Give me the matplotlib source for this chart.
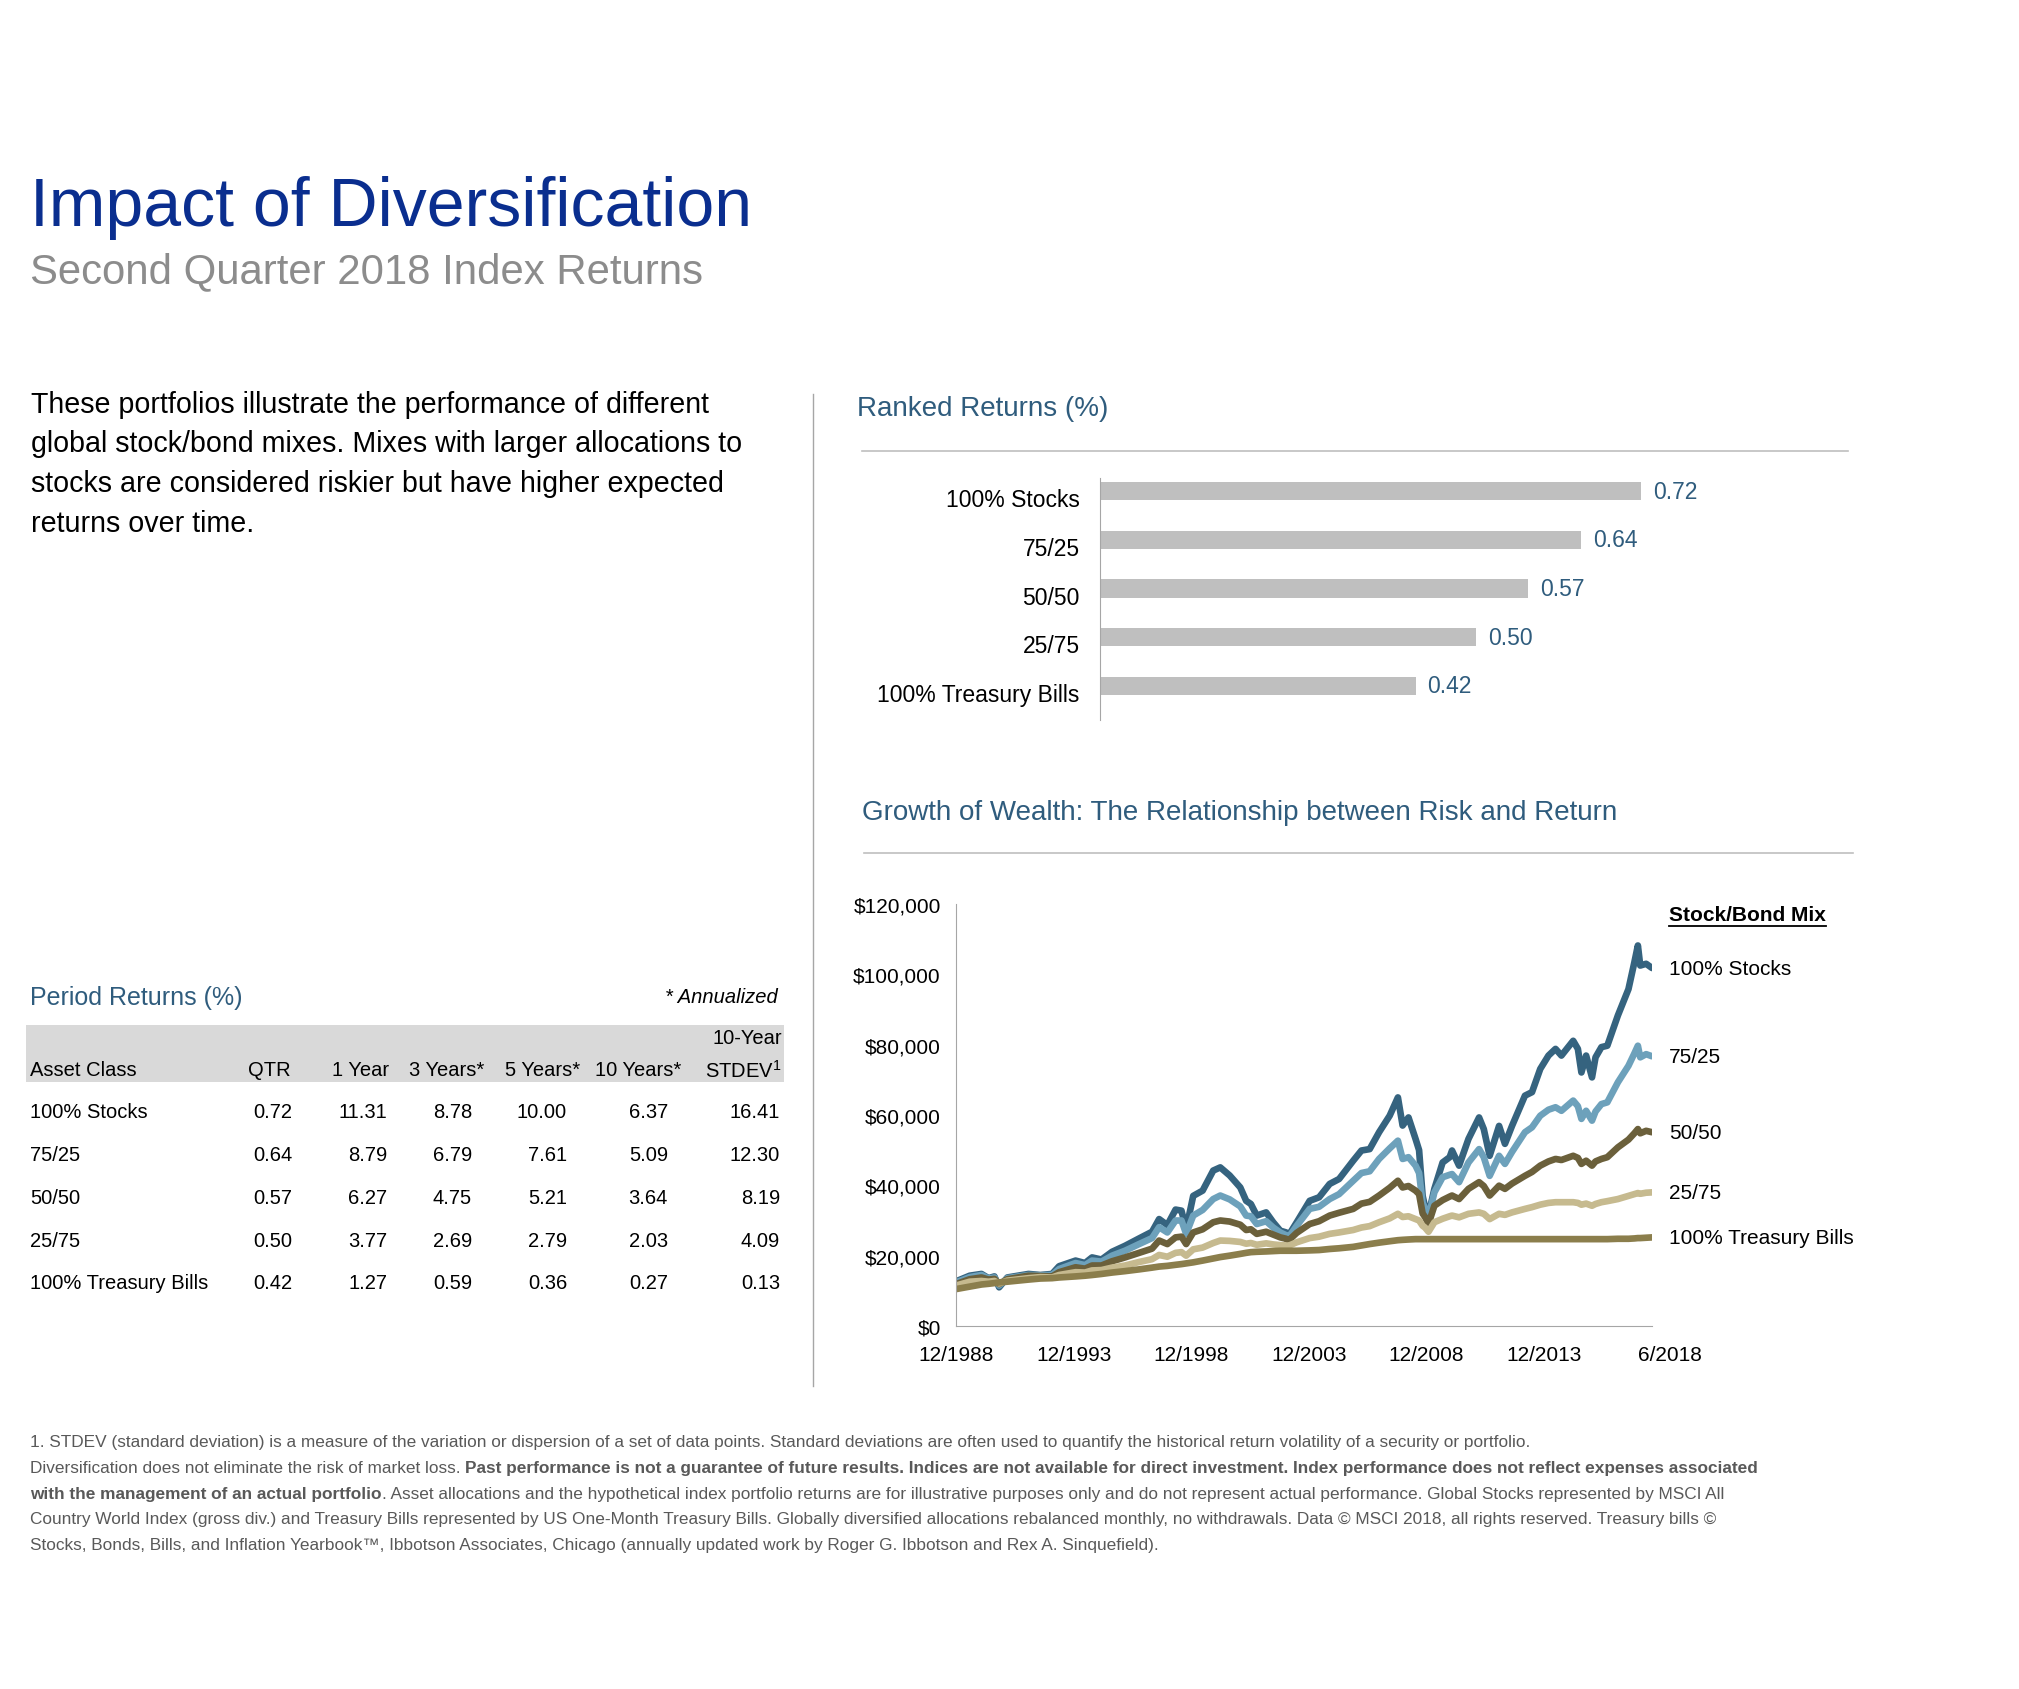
import matplotlib
matplotlib.use('Agg')
import matplotlib.pyplot as plt
from matplotlib.transforms import ScaledTranslation

plt.rcParams['font.family'] = ['Liberation Sans', 'DejaVu Sans']
plt.rcParams['mathtext.fontset'] = 'custom'
plt.rcParams['mathtext.rm'] = 'Liberation Sans'

# Dane: zwroty okresowe (%)
asset_classes = ['100% Stocks', '75/25', '50/50', '25/75', '100% Treasury Bills']
qtr = [0.72, 0.64, 0.57, 0.50, 0.42]
one_year = [11.31, 8.79, 6.27, 3.77, 1.27]
three_years = [8.78, 6.79, 4.75, 2.69, 0.59]
five_years = [10.00, 7.61, 5.21, 2.79, 0.36]
ten_years = [6.37, 5.09, 3.64, 2.03, 0.27]
stdev_10y = [16.41, 12.30, 8.19, 4.09, 0.13]

# Dane: wzrost wartosci (tys. $)
dates = [
    1988.92, 1989.5, 1990.0, 1990.3, 1990.55, 1990.75, 1991.1, 1992.0, 1992.5, 1993.0,
    1993.3, 1994.0, 1994.4, 1994.7, 1995.1, 1995.55, 1996.1, 1996.7, 1997.25, 1997.55,
    1997.9, 1998.25, 1998.5, 1998.7, 1999.0, 1999.4, 1999.85, 2000.15, 2000.55, 2001.0,
    2001.25, 2001.45, 2001.7, 2002.1, 2002.4, 2002.7, 2002.95, 2003.05, 2003.4, 2003.95,
    2004.35, 2004.8, 2005.2, 2005.8, 2006.15, 2006.5, 2006.9, 2007.35, 2007.7, 2007.9,
    2008.15, 2008.45, 2008.6, 2008.75, 2008.85, 2009.0, 2009.25, 2009.6, 2009.9, 2010.0,
    2010.3, 2010.7, 2011.15, 2011.35, 2011.6, 2012.0, 2012.25, 2012.55, 2013.1, 2013.4,
    2013.75, 2014.1, 2014.4, 2014.65, 2015.15, 2015.35, 2015.5, 2015.7, 2015.95, 2016.1,
    2016.35, 2016.6, 2017.05, 2017.5, 2017.75, 2017.9, 2018.0, 2018.25, 2018.5]
stocks_100 = [
    12.7, 14.3, 14.8, 13.6, 14.1, 11.0, 13.8, 14.8, 14.5, 14.8,
    17.0, 18.6, 17.9, 19.5, 18.9, 21.1, 22.8, 24.9, 26.8, 30.4,
    28.7, 33.1, 32.8, 27.5, 37.0, 38.5, 44.2, 45.1, 42.8, 39.4,
    35.6, 34.7, 31.4, 32.3, 29.5, 27.1, 26.6, 25.7, 29.5, 35.6,
    36.6, 40.4, 41.8, 47.0, 49.9, 50.3, 55.1, 59.8, 65.0, 57.0,
    59.3, 53.2, 50.0, 37.0, 34.0, 31.5, 39.0, 46.5, 48.0, 49.9,
    45.6, 53.2, 59.3, 56.0, 48.4, 56.9, 51.8, 56.9, 65.5, 66.5,
    73.1, 76.9, 78.8, 76.9, 81.1, 78.8, 72.1, 76.9, 70.7, 76.4,
    79.3, 79.7, 88.3, 95.8, 103.4, 108.2, 102.5, 103.0, 101.8]
mix_75_25 = [
    12.4, 13.9, 14.5, 13.5, 13.8, 11.5, 13.6, 14.5, 14.4, 14.5,
    16.2, 17.9, 17.3, 18.6, 18.3, 20.0, 21.4, 23.3, 25.0, 28.1,
    26.6, 30.0, 30.0, 26.2, 31.4, 33.0, 36.1, 37.1, 36.0, 34.0,
    31.4, 31.2, 29.0, 29.8, 28.0, 26.6, 25.8, 25.2, 28.5, 33.3,
    33.9, 36.1, 37.5, 41.3, 43.5, 44.0, 47.5, 50.5, 52.7, 47.5,
    48.0, 45.6, 43.5, 35.0, 33.5, 31.0, 38.0, 42.3, 43.0, 43.2,
    40.9, 46.5, 50.3, 48.0, 42.7, 48.4, 46.1, 49.5, 55.1, 56.5,
    59.8, 61.5, 62.2, 61.2, 64.1, 62.5, 58.9, 61.2, 58.4, 61.0,
    63.1, 63.6, 69.3, 74.0, 77.5, 79.7, 76.4, 77.3, 76.7]
mix_50_50 = [
    11.9, 13.3, 13.8, 13.2, 13.4, 11.9, 13.3, 14.3, 14.2, 14.1,
    15.3, 16.7, 16.3, 17.2, 17.2, 18.4, 19.5, 20.8, 22.0, 24.3,
    23.3, 25.2, 25.4, 23.3, 26.6, 27.5, 29.5, 30.0, 29.7, 28.8,
    27.3, 27.5, 26.2, 26.8, 26.0, 25.2, 24.8, 24.3, 26.5, 29.0,
    29.8, 31.4, 32.2, 33.3, 34.8, 35.3, 37.1, 39.3, 41.3, 39.4,
    39.8, 38.5, 37.5, 32.0, 31.0, 29.0, 34.2, 35.8, 36.8, 37.1,
    36.1, 39.0, 40.9, 39.8, 37.1, 39.9, 39.0, 40.5, 42.7, 43.8,
    45.6, 46.8, 47.5, 47.2, 48.4, 47.8, 46.1, 47.0, 45.6, 46.8,
    47.5, 48.0, 50.8, 53.0, 54.8, 56.0, 54.8, 55.5, 55.1]
mix_25_75 = [
    11.5, 12.6, 12.8, 12.6, 12.8, 12.1, 12.9, 13.6, 13.9, 13.8,
    14.5, 15.3, 15.2, 15.8, 15.9, 16.6, 17.2, 18.2, 19.0, 20.2,
    19.7, 20.8, 21.0, 20.0, 21.8, 22.3, 23.6, 24.3, 24.2, 23.9,
    23.4, 23.6, 23.1, 23.5, 23.2, 23.0, 22.9, 22.8, 23.8, 25.0,
    25.4, 26.2, 26.6, 27.3, 28.0, 28.4, 29.5, 30.6, 31.9, 31.0,
    31.2, 30.4, 30.0, 28.5, 28.0, 26.8, 29.5, 30.5, 31.2, 31.4,
    30.9, 31.9, 32.3, 31.9, 30.4, 31.9, 31.6, 32.3, 33.3, 33.8,
    34.5, 35.0, 35.2, 35.2, 35.2, 35.0, 34.5, 34.8, 34.2, 34.7,
    35.2, 35.5, 36.1, 37.0, 37.5, 37.8, 37.6, 37.9, 38.0]
tbills_100 = [
    10.5, 11.2, 11.8, 12.0, 12.2, 12.4, 12.6, 13.2, 13.5, 13.6,
    13.8, 14.1, 14.3, 14.5, 14.8, 15.2, 15.6, 16.1, 16.6, 16.9,
    17.1, 17.4, 17.6, 17.8, 18.1, 18.6, 19.2, 19.6, 20.0, 20.5,
    20.8, 21.0, 21.1, 21.2, 21.3, 21.4, 21.4, 21.4, 21.4, 21.5,
    21.6, 21.9, 22.1, 22.5, 22.9, 23.3, 23.7, 24.1, 24.4, 24.5,
    24.6, 24.7, 24.7, 24.7, 24.7, 24.7, 24.7, 24.7, 24.7, 24.7,
    24.7, 24.7, 24.7, 24.7, 24.7, 24.7, 24.7, 24.7, 24.7, 24.7,
    24.7, 24.7, 24.7, 24.7, 24.7, 24.7, 24.7, 24.7, 24.7, 24.7,
    24.7, 24.7, 24.8, 24.8, 24.9, 25.0, 25.0, 25.1, 25.2]

series = [stocks_100, mix_75_25, mix_50_50, mix_25_75, tbills_100]
series_colors = ['#35637F', '#6DA1BB', '#6B603B', '#C6BA8F', '#8B7E4C']

x_tick_pos = [1988.917, 1993.917, 1998.917, 2003.917, 2008.917, 2013.917, 2018.5]
x_tick_labels = ['12/1988', '12/1993', '12/1998', '12/2003', '12/2008', '12/2013', '6/2018']
y_ticks = [0, 20000, 40000, 60000, 80000, 100000, 120000]

W, H = 2019, 1690
fig = plt.figure(figsize=(W / 100, H / 100), dpi=100)


def fx(x):
    return x / W


def fy(y):
    return 1 - y / H


def add_ax(left, top, right, bottom):
    return fig.add_axes([fx(left), fy(bottom), (right - left) / W, (bottom - top) / H])


BLUE = '#2F5C7D'
TITLE_BLUE = '#0A2E8F'
GRAY_LINE = '#BFBFBF'

# Naglowki
fig.text(fx(30), fy(226), 'Impact of Diversification', fontsize=49, color=TITLE_BLUE, va='baseline')
fig.text(fx(30), fy(283), 'Second Quarter 2018 Index Returns', fontsize=30.2, color='#8C8C8C', va='baseline')

para = ['These portfolios illustrate the performance of different',
        'global stock/bond mixes. Mixes with larger allocations to',
        'stocks are considered riskier but have higher expected',
        'returns over time.']
for i, line in enumerate(para):
    fig.text(fx(31), fy(413 + i * 39.5), line, fontsize=20.6, color='black', va='baseline')

# linia pionowa
fig.add_artist(plt.Line2D([fx(813), fx(813)], [fy(395), fy(1387)], color='#A6A6A6', lw=1))

# Tabela zwrotow
fig.text(fx(30), fy(998), 'Period Returns (%)', fontsize=18, color=BLUE, va='center')
fig.text(fx(778), fy(998), '* Annualized', fontsize=14.5, style='italic', color='black', va='center', ha='right')
fig.add_artist(plt.Rectangle((fx(26), fy(1083)), (784 - 26) / W, (1083 - 1026) / H,
                             color='#D9D9D9', lw=0))
hdr_y = 1071
fig.text(fx(30), fy(hdr_y), 'Asset Class', fontsize=14.5, va='center')
headers = ['QTR', '1 Year', '3 Years*', '5 Years*', '10 Years*']
hdr_right = [291, 389, 484, 580, 681]
for h, xr in zip(headers, hdr_right):
    fig.text(fx(xr), fy(hdr_y), h, fontsize=14.5, va='center', ha='right')
fig.text(fx(782), fy(1039), '10-Year', fontsize=14.5, va='center', ha='right')
fig.text(fx(782), fy(hdr_y), 'STDEV$^{1}$', fontsize=14.5, va='center', ha='right')

cols = [qtr, one_year, three_years, five_years, ten_years, stdev_10y]
col_right = [292, 387, 472, 567, 668, 780]
for r, name in enumerate(asset_classes):
    yy = 1113 + r * 42.75
    fig.text(fx(30), fy(yy), name, fontsize=14.5, va='center')
    for col, xr in zip(cols, col_right):
        fig.text(fx(xr), fy(yy), f'{col[r]:.2f}', fontsize=14.5, va='center', ha='right')

# Ranked Returns
fig.text(fx(857), fy(409), 'Ranked Returns (%)', fontsize=20, color=BLUE, va='center')
fig.add_artist(plt.Line2D([fx(862), fx(1848)], [fy(452), fy(452)], color=GRAY_LINE, lw=1.2))

axb = add_ax(1100, 479, 1701, 721)
ypos = list(range(len(asset_classes)))
axb.barh(ypos, qtr, height=0.38, color='#BFBFBF')
axb.set_xlim(0, 0.8)
axb.set_ylim(4.7, -0.27)
for s in ['top', 'right', 'bottom']:
    axb.spines[s].set_visible(False)
axb.spines['left'].set_color('#A6A6A6')
axb.set_xticks([])
axb.set_yticks([])
for i, (name, v) in enumerate(zip(asset_classes, qtr)):
    axb.text(-0.027, i + 0.18, name, fontsize=16.5, ha='right', va='center')
    axb.text(v + 0.016, i, f'{v:.2f}', fontsize=16.5, color=BLUE, ha='left', va='center')

# Growth of Wealth
fig.text(fx(862), fy(813), 'Growth of Wealth: The Relationship between Risk and Return',
         fontsize=20, color=BLUE, va='center')
fig.add_artist(plt.Line2D([fx(864), fx(1853)], [fy(854), fy(854)], color=GRAY_LINE, lw=1.2))

axl = add_ax(956, 905, 1652, 1327)
for vals, c in zip(series, series_colors):
    axl.plot(dates, [v * 1000 for v in vals], color=c, lw=4.8, solid_joinstyle='round',
             solid_capstyle='round')
axl.set_xlim(1988.917, 2018.5)
axl.set_ylim(0, 120000)
axl.set_yticks(y_ticks)
axl.set_yticklabels([f'${v:,.0f}' for v in y_ticks])
axl.set_xticks(x_tick_pos)
axl.set_xticklabels(x_tick_labels)
axl.tick_params(axis='y', length=0, pad=11, labelsize=15)
axl.tick_params(axis='x', length=0, pad=14, labelsize=15)
last = axl.get_xticklabels()[-1]
last.set_transform(last.get_transform() + ScaledTranslation(18 / 100, 0, fig.dpi_scale_trans))
for s in ['top', 'right']:
    axl.spines[s].set_visible(False)
for s in ['left', 'bottom']:
    axl.spines[s].set_color('#A6A6A6')

renderer = fig.canvas.get_renderer()
tr = axl.get_yaxis_transform()
hdr = axl.text(1.024, 116900, 'Stock/Bond Mix', transform=tr, fontsize=15, fontweight='bold',
               va='center', ha='left')
bb = hdr.get_window_extent(renderer)
fig.add_artist(plt.Line2D([bb.x0 / W, bb.x1 / W], [(bb.y0 - 2) / H, (bb.y0 - 2) / H],
                          color='black', lw=1.3))
for name, vals in zip(asset_classes, series):
    axl.text(1.024, vals[-1] * 1000, name, transform=tr, fontsize=15, va='center', ha='left')

# Stopka
foot = [
    [('1. STDEV (standard deviation) is a measure of the variation or dispersion of a set of data points. '
      'Standard deviations are often used to quantify the historical return volatility of a security or portfolio.',
      'normal')],
    [('Diversification does not eliminate the risk of market loss. ', 'normal'),
     ('Past performance is not a guarantee of future results. Indices are not available for direct investment. '
      'Index performance does not reflect expenses associated', 'bold')],
    [('with the management of an actual portfolio', 'bold'),
     ('. Asset allocations and the hypothetical index portfolio returns are for illustrative purposes only and do '
      'not represent actual performance. Global Stocks represented by MSCI All', 'normal')],
    [('Country World Index (gross div.) and Treasury Bills represented by US One-Month Treasury Bills. Globally '
      'diversified allocations rebalanced monthly, no withdrawals. Data \u00a9 MSCI 2018, all rights reserved. '
      'Treasury bills \u00a9', 'normal')],
    [('Stocks, Bonds, Bills, and Inflation Yearbook\u2122, Ibbotson Associates, Chicago (annually updated work by '
      'Roger G. Ibbotson and Rex A. Sinquefield).', 'normal')],
]
for i, runs in enumerate(foot):
    xpix = 30
    ypix = 1443 + i * 25.6
    for txt, wt in runs:
        t = fig.text(fx(xpix), fy(ypix), txt, fontsize=12.4, color='#595959', fontweight=wt,
                     va='center')
        bb = t.get_window_extent(renderer)
        xpix += bb.width

fig.savefig('out.png', dpi=100)
